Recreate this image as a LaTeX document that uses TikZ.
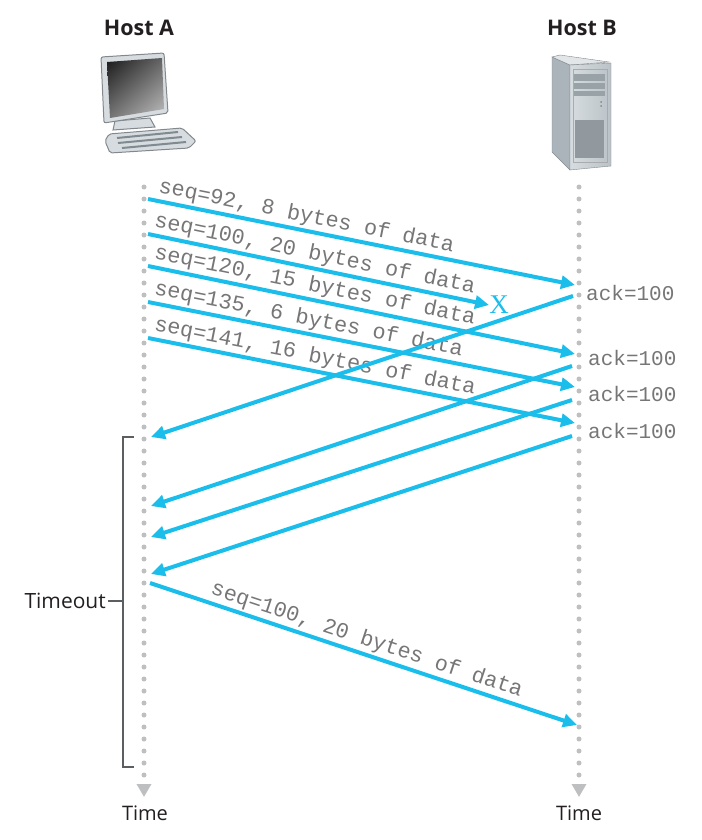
\documentclass[tikz,border=0pt]{standalone}
\usepackage{fontspec}
\setmainfont{Open Sans}
\setmonofont{Liberation Mono}
\newfontfamily\lossfont{Liberation Serif}
\usetikzlibrary{arrows.meta,shadings}
\definecolor{pktblue}{RGB}{27,189,235}
\definecolor{dotgray}{RGB}{190,191,193}
\definecolor{txtgray}{RGB}{118,118,118}
\definecolor{inkgray}{RGB}{35,31,32}
\definecolor{icoline}{RGB}{130,136,140}
\definecolor{srvlight}{RGB}{214,220,223}
\definecolor{srvmid}{RGB}{170,180,186}
\definecolor{srvdark}{RGB}{128,138,145}
\tikzset{
  pkt/.style={line width=4pt, pktblue, -{Triangle[length=14pt,width=13pt]}},
  lbl/.style={sloped, anchor=south west, inner sep=0pt, outer sep=4pt, text=txtgray,
    font=\ttfamily\fontsize{21.8}{24}\selectfont},
  acklbl/.style={anchor=west, inner sep=0pt, text=txtgray, font=\ttfamily\fontsize{21}{24}\selectfont},
  timeline/.style={dotgray, line width=5pt, line cap=round, dash pattern=on 0pt off 12pt,
    -{Triangle[length=13pt,width=14pt]}},
  bracket/.style={icoline!70!black, line width=1.3pt},
}
\begin{document}
\begin{tikzpicture}[x=1pt, y=-1pt]
\useasboundingbox (0,0) rectangle (701,840);

% hosts
\node[font=\bfseries\fontsize{21.5}{24}\selectfont, text=inkgray] (hostA) at (139,28) {Host A};
\node[font=\bfseries\fontsize{21.5}{24}\selectfont, text=inkgray] (hostB) at (582,28) {Host B};

% desktop computer
\filldraw[fill=srvlight, draw=icoline, line width=1pt, rounded corners=2pt]
  (105,141) -- (109,134) -- (182,128) -- (196,141) -- (189,148) -- (110,153) -- cycle;
\draw[srvdark, line width=2pt] (117,138) -- (178,132) (118,143) -- (182,137) (122,148) -- (186,142);
\filldraw[fill=srvlight, draw=icoline, line width=1pt] (115,121) -- (150,118) -- (155,127) -- (113,130) -- cycle;
\filldraw[fill=srvlight, draw=icoline, line width=1pt, rounded corners=2pt]
  (101,57) -- (164,53) -- (168,113) -- (104,123) -- cycle;
\shade[upper left=black!90, upper right=black!60, lower left=black!55, lower right=black!25]
  (107,62) -- (162,58) -- (164,109) -- (110,118) -- cycle;

% server tower
\filldraw[fill=srvmid, draw=icoline] (552,57) -- (570,65) -- (570,170) -- (552,152) -- cycle;
\filldraw[fill=srvlight!70!white, draw=icoline] (552,57) -- (560,55) -- (609,62) -- (570,65) -- cycle;
\shade[draw=icoline, left color=srvlight, right color=srvmid!80] (570,65) -- (611,63) -- (611,166) -- (570,170) -- cycle;
\draw[icoline!70, line width=0.8pt] (573,69) rectangle (607,162);
\fill[srvmid!90!black] (574,74) rectangle (605,81);
\fill[srvmid!90!black] (574,83) rectangle (605,89);
\fill[srvmid!90!black] (574,91) rectangle (605,96);
\fill[srvdark] (601,102) circle (1pt) (601,106) circle (1pt);
\fill[srvmid!85!black] (575,120) rectangle (604,158);

% time lines
\coordinate (topA) at (144,187);
\coordinate (endA) at (144,797);
\coordinate (topB) at (579,187);
\coordinate (endB) at (579,797);
\draw[timeline] (topA) -- (endA);
\draw[timeline] (topB) -- (endB);
\node[font=\fontsize{20}{24}\selectfont, text=inkgray] (timeA) at (145,813) {Time};
\node[font=\fontsize{20}{24}\selectfont, text=inkgray] (timeB) at (579,813) {Time};

% timeout bracket
\node[anchor=east, inner sep=2pt, font=\fontsize{21}{24}\selectfont, text=inkgray] (tout) at (108,601) {Timeout};
\coordinate (brTop) at (123,437);
\coordinate (brBot) at (123,767);
\draw[bracket] ([xshift=11pt]brTop) -- (brTop) -- (brBot) -- ([xshift=11pt]brBot);
\draw[bracket] (tout.east) -- (brTop |- tout.east);

% ends of the segments
\coordinate (a1) at (148,199);
\coordinate (a2) at (148,234);
\coordinate (a3) at (148,266);
\coordinate (a4) at (148,302);
\coordinate (a5) at (148,338);
\coordinate (a6) at (150,583);
\coordinate (b1) at (575,285);
\coordinate (b3) at (575,354);
\coordinate (b4) at (575,387);
\coordinate (b5) at (575,423);
\coordinate (b6) at (577,725);
\coordinate (s1) at (573,296);
\coordinate (s2) at (572,366);
\coordinate (s3) at (572,400);
\coordinate (s4) at (572,436);
\coordinate (r1) at (151,437);
\coordinate (r2) at (151,506);
\coordinate (r3) at (151,537);
\coordinate (r4) at (151,574);

\node[inner sep=0pt, text=pktblue, font=\lossfont\fontsize{27}{28}\selectfont] (lost) at (499,305) {X};

% data segments
\draw[pkt] (a1) -- node[lbl, pos=0.01] {seq=92, 8 bytes of data} (b1);
\draw[pkt] (a2) -- node[lbl, pos=0] {seq=100, 20 bytes of data} (lost.west);
\draw[pkt] (a3) -- node[lbl, pos=0] {seq=120, 15 bytes of data} (b3);
\draw[pkt] (a4) -- node[lbl, pos=0] {seq=135, 6 bytes of data} (b4);
\draw[pkt] (a5) -- node[lbl, pos=0] {seq=141, 16 bytes of data} (b5);

% acks
\node[acklbl] (ack1) at (586,293) {ack=100};
\node[acklbl] (ack2) at (588,358) {ack=100};
\node[acklbl] (ack3) at (588,394) {ack=100};
\node[acklbl] (ack4) at (588,431) {ack=100};
\draw[pkt] (s1) -- (r1);
\draw[pkt] (s2) -- (r2);
\draw[pkt] (s3) -- (r3);
\draw[pkt] (s4) -- (r4);

% retransmission
\draw[pkt] (a6) -- node[lbl, pos=0.125] {seq=100, 20 bytes of data} (b6);
\end{tikzpicture}
\end{document}
